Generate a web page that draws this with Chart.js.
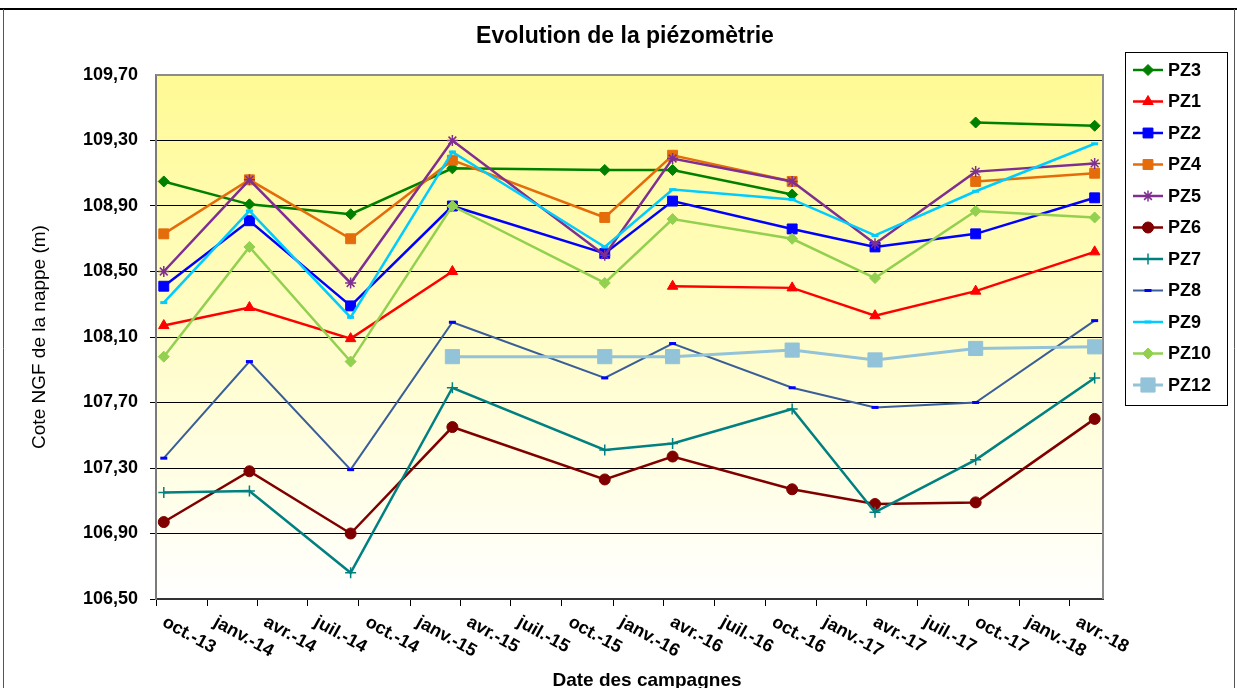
<!DOCTYPE html>
<html><head><meta charset="utf-8">
<script src="https://cdn.jsdelivr.net/npm/chart.js@4.4.1/dist/chart.umd.min.js"></script>
<style>html,body{margin:0;padding:0;background:#fff;}#wrap{width:1237px;height:688px;position:relative;}canvas{display:block;}</style>
</head><body><div id="wrap"><canvas id="c" width="1237" height="688" style="width:1237px;height:688px"></canvas></div>
<script>
// ---- data ----
const campaignDates = ["2013-10-15","2014-03-18","2014-09-16","2015-03-18","2015-12-17","2016-04-17","2016-11-18","2017-04-16","2017-10-14","2018-05-16"];
const PZ3  = [109.05,108.91,108.85,109.13,109.12,109.12,108.97,null,109.41,109.39];
const PZ1  = [108.17,108.28,108.09,108.50,null,108.41,108.40,108.23,108.38,108.62];
const PZ2  = [108.41,108.81,108.29,108.90,108.61,108.93,108.76,108.65,108.73,108.95];
const PZ4  = [108.73,109.06,108.70,109.18,108.83,109.21,109.05,null,109.05,109.10];
const PZ5  = [108.50,109.06,108.43,109.30,108.60,109.19,109.05,108.67,109.11,109.16];
const PZ6  = [106.97,107.28,106.90,107.55,107.23,107.37,107.17,107.08,107.09,107.60];
const PZ7  = [107.15,107.16,106.66,107.79,107.41,107.45,107.66,107.03,107.35,107.85];
const PZ8  = [107.36,107.95,107.29,108.19,107.85,108.06,107.79,107.67,107.70,108.20];
const PZ9  = [108.31,108.87,108.22,109.23,108.65,109.00,108.94,108.72,108.99,109.28];
const PZ10 = [107.98,108.65,107.95,108.90,108.43,108.82,108.70,108.46,108.87,108.83];
const PZ12 = [null,null,null,107.98,107.98,107.98,108.02,107.96,108.03,108.04];
const tickDates = ["2013-10-01","2014-01-01","2014-04-01","2014-07-01","2014-10-01","2015-01-01","2015-04-01","2015-07-01","2015-10-01","2016-01-01","2016-04-01","2016-07-01","2016-10-01","2017-01-01","2017-04-01","2017-07-01","2017-10-01","2018-01-01","2018-04-01"];
const tickLabels = ["oct.-13","janv.-14","avr.-14","juil.-14","oct.-14","janv.-15","avr.-15","juil.-15","oct.-15","janv.-16","avr.-16","juil.-16","oct.-16","janv.-17","avr.-17","juil.-17","oct.-17","janv.-18","avr.-18"];
const yTicks = [106.5,106.9,107.3,107.7,108.1,108.5,108.9,109.3,109.7];
const axisStart = "2013-10-01", axisEnd = "2018-05-31";
const titleText = "Evolution de la piézomètrie";
const xTitle = "Date des campagnes";
const yTitle = "Cote NGF de la nappe (m)";

// ---- helpers ----
const origin = Date.UTC(2013,9,1);
function day(s){const p=s.split('-').map(Number);return (Date.UTC(p[0],p[1]-1,p[2])-origin)/86400000;}
const FONT = '"Liberation Sans", Arial, sans-serif';

function ds(label, values, color, style, extra){
  return Object.assign({
    label, data: values.map((v,i)=>({x:day(campaignDates[i]), y:v})),
    borderColor: color, backgroundColor: color,
    pointBackgroundColor: color, pointBorderColor: color,
    borderWidth: 2.5, tension: 0, spanGaps: false,
    pointStyle: style, pointRadius: 5, pointHoverRadius: 5, pointBorderWidth: 1
  }, extra||{});
}
const datasets = [
  ds("PZ3", PZ3, "#008000", "rectRot", {pointRadius:5.5}),
  ds("PZ1", PZ1, "#FF0000", "triangle", {pointRadius:6}),
  ds("PZ2", PZ2, "#0000FF", "rect", {pointRadius:7}),
  ds("PZ4", PZ4, "#E46C0A", "rect", {pointRadius:7}),
  ds("PZ5", PZ5, "#7F2F92", "star", {pointRadius:5.5, pointBorderWidth:1.5}),
  ds("PZ6", PZ6, "#800000", "circle", {pointRadius:5.5}),
  ds("PZ7", PZ7, "#008080", "cross", {pointRadius:5.5, pointBorderWidth:1.5}),
  ds("PZ8", PZ8, "#3A5F98", "line", {pointRadius:3.5, pointBorderWidth:3, pointBorderColor:"#0000FF", pointBackgroundColor:"#0000FF", borderWidth:2}),
  ds("PZ9", PZ9, "#00CCFF", "line", {pointRadius:3.5, pointBorderWidth:3}),
  ds("PZ10", PZ10, "#92D050", "rectRot", {pointRadius:5.5}),
  ds("PZ12", PZ12, "#93C3D8", "rect", {pointRadius:10, borderWidth:3})
];
datasets.forEach((d,i)=>{d.order=-i;});

const decor = {
  id:'decor',
  beforeDraw(chart){
    const {ctx, chartArea:a} = chart;
    ctx.save();
    ctx.fillStyle='#fff'; ctx.fillRect(0,0,chart.width,chart.height);
    const g = ctx.createLinearGradient(0,a.top,0,a.bottom);
    g.addColorStop(0,'#FFFA94'); g.addColorStop(0.5,'#FFFDC8'); g.addColorStop(1,'#FFFFFF');
    ctx.fillStyle=g; ctx.fillRect(a.left,a.top,a.right-a.left,a.bottom-a.top);
    ctx.restore();
  },
  beforeDatasetsDraw(chart){
    const {ctx, chartArea:a} = chart;
    ctx.save();
    ctx.strokeStyle='#8C8C8C'; ctx.lineWidth=2;
    ctx.beginPath(); ctx.moveTo(a.left,a.top); ctx.lineTo(a.right,a.top); ctx.lineTo(a.right,a.bottom); ctx.stroke();
    ctx.restore();
  },
  afterDraw(chart){
    const {ctx, chartArea:a} = chart;
    const xs = chart.scales.x;
    ctx.save();
    ctx.fillStyle='#000';
    ctx.font='bold 23px '+FONT; ctx.textAlign='center'; ctx.textBaseline='middle';
    ctx.fillText(titleText, 625, 37);
    ctx.font='bold 19px '+FONT;
    ctx.fillText(xTitle, 647, 681);
    ctx.save(); ctx.translate(40,337); ctx.rotate(-Math.PI/2);
    ctx.font='19px '+FONT; ctx.fillText(yTitle,0,0); ctx.restore();
    ctx.font='bold 18px '+FONT; ctx.textAlign='left'; ctx.textBaseline='top';
    tickDates.forEach((d,i)=>{
      const px = xs.getPixelForValue(day(d));
      ctx.save(); ctx.translate(px+12, a.bottom+14); ctx.rotate(29*Math.PI/180);
      ctx.fillText(tickLabels[i],0,0); ctx.restore();
    });
    const lx=1125, ly=52, lw=102, lh=353;
    ctx.fillStyle='#fff'; ctx.fillRect(lx,ly,lw,lh);
    ctx.strokeStyle='#000'; ctx.lineWidth=1; ctx.strokeRect(lx+0.5,ly+0.5,lw,lh);
    datasets.forEach((d,i)=>{
      const y = 70 + i*31.5;
      ctx.strokeStyle=d.borderColor; ctx.lineWidth=d.borderWidth;
      ctx.beginPath(); ctx.moveTo(1133,y); ctx.lineTo(1163,y); ctx.stroke();
      ctx.save();
      ctx.fillStyle=d.pointBackgroundColor; ctx.strokeStyle=d.pointBorderColor; ctx.lineWidth=d.pointBorderWidth;
      Chart.helpers.drawPoint(ctx,{pointStyle:d.pointStyle, radius:d.pointRadius, rotation:0, borderWidth:d.pointBorderWidth},1148,y);
      ctx.restore();
      ctx.fillStyle='#000'; ctx.font='bold 18px '+FONT; ctx.textAlign='left'; ctx.textBaseline='middle';
      ctx.fillText(d.label, 1168, y+1);
    });
    ctx.strokeStyle='#000'; ctx.lineWidth=2;
    ctx.beginPath(); ctx.moveTo(0,9); ctx.lineTo(1237,9); ctx.stroke();
    ctx.strokeStyle='#555'; ctx.lineWidth=1;
    ctx.beginPath(); ctx.moveTo(3.5,9); ctx.lineTo(3.5,688); ctx.moveTo(1234.5,9); ctx.lineTo(1234.5,688); ctx.stroke();
    ctx.restore();
  }
};

new Chart(document.getElementById('c'), {
  type:'line',
  data:{datasets},
  options:{
    responsive:false, animation:false, devicePixelRatio:1,
    layout:{padding:{top:75,right:134,left:0,bottom:0}},
    plugins:{legend:{display:false}, title:{display:false}, tooltip:{enabled:false}},
    scales:{
      x:{type:'linear', min:day(axisStart), max:day(axisEnd),
        afterBuildTicks(s){ s.ticks = tickDates.map(d=>({value:day(d)})); },
        afterFit(s){ s.height = 89; },
        ticks:{display:false},
        grid:{drawOnChartArea:false, drawTicks:true, tickLength:7, color:'#000', lineWidth:1},
        border:{color:'#333', width:2}
      },
      y:{type:'linear', min:106.5, max:109.7,
        afterBuildTicks(s){ s.ticks = yTicks.map(v=>({value:v})); },
        afterFit(s){ s.width = 156; },
        ticks:{padding:12, color:'#000', font:{family:FONT, size:18, weight:'bold'},
          callback:(v)=>Number(v).toFixed(2).replace('.',',')},
        grid:{color:(c)=> (c.tick && Math.abs(c.tick.value-109.7)<1e-6) ? 'rgba(0,0,0,0)' : '#000', lineWidth:1, tickLength:6},
        border:{color:'#7A7A7A', width:2}
      }
    }
  },
  plugins:[decor]
});
</script></body></html>
